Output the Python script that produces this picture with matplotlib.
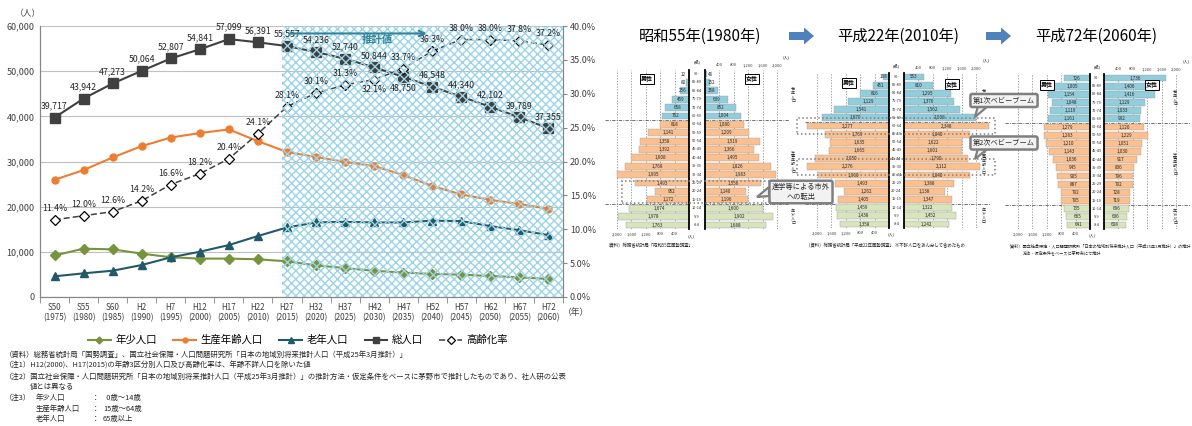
import numpy as np
import matplotlib
matplotlib.use('Agg')
import matplotlib.pyplot as plt
from matplotlib.patches import Polygon, FancyArrow, Rectangle
from matplotlib.transforms import blended_transform_factory
from matplotlib.ticker import FuncFormatter

plt.rcParams['font.family'] = ['Noto Sans CJK JP', 'DejaVu Sans']
plt.rcParams['hatch.linewidth'] = 1.0

W, H = 1192, 426

# ---- left chart: Chino city population trend
eras = ['S50', 'S55', 'S60', 'H2', 'H7', 'H12', 'H17', 'H22', 'H27',
        'H32', 'H37', 'H42', 'H47', 'H52', 'H57', 'H62', 'H67', 'H72']
years = ['1975', '1980', '1985', '1990', '1995', '2000', '2005', '2010', '2015',
         '2020', '2025', '2030', '2035', '2040', '2045', '2050', '2055', '2060']
total = [39717, 43942, 47273, 50064, 52807, 54841, 57099, 56391, 55557,
         54236, 52740, 50844, 48750, 46548, 44340, 42102, 39789, 37355]
young = [9200, 10700, 10550, 9600, 8800, 8500, 8500, 8350, 7900,
         7000, 6400, 5800, 5400, 5100, 4950, 4650, 4350, 4000]
working = [25950, 28100, 30900, 33400, 35300, 36300, 37100, 34500, 32100,
           31000, 29900, 29000, 27000, 24600, 22700, 21500, 20600, 19500]
elderly = [4580, 5240, 5820, 7080, 8780, 10020, 11500, 13500, 15400,
           16500, 16650, 16500, 16500, 16900, 16800, 15700, 14800, 13700]
aging = [11.4, 12.0, 12.6, 14.2, 16.6, 18.2, 20.4, 24.1, 28.1,
         30.1, 31.3, 32.1, 33.7, 36.3, 38.0, 38.0, 37.8, 37.2]
forecast_from = 7.83

# ---- pyramids (youngest -> oldest)
ages = ['0-4', '5-9', '10-14', '15-19', '20-24', '25-29', '30-34', '35-39', '40-44',
        '45-49', '50-54', '55-59', '60-64', '65-69', '70-74', '75-79', '80-84', '85-89', '90-']
male_1980 = [1763, 1978, 1674, 1172, 952, 1493, 1995, 1768, 1608, 1392, 1358, 1141, 818,
             762, 658, 459, 256, 80, 12]
female_1980 = [1688, 1902, 1600, 1196, 1140, 1556, 1983, 1826, 1495, 1366, 1519, 1209, 1080,
               1004, 852, 639, 358, 152, 46]
male_2010 = [1358, 1438, 1459, 1405, 1262, 1493, 1960, 2276, 2050, 1665, 1635, 1769, 2277,
             1870, 1541, 1129, 816, 451, 168]
female_2010 = [1242, 1452, 1322, 1347, 1138, 1388, 1840, 2112, 1790, 1601, 1622, 1840, 2348,
               2008, 1562, 1376, 1295, 810, 553]
male_2060 = [641, 665, 735, 795, 792, 887, 905, 945, 1036, 1143, 1210, 1283, 1279,
             1161, 1119, 1048, 1154, 1005, 726]
female_2060 = [608, 636, 696, 719, 728, 792, 796, 836, 917, 1030, 1051, 1229, 1120,
               992, 1033, 1129, 1416, 1406, 1736]
grid_ticks = [400, 800, 1200, 1600, 2000]

GREEN = '#77933C'
ORANGE = '#ED7D31'
TEAL = '#215968'
DARK = '#404040'
HATCH = '#9bd4e7'
ARROW_BLUE = '#31849B'


def box(x0, y0, x1, y1):
    return [x0 / W, 1 - y1 / H, (x1 - x0) / W, (y1 - y0) / H]


fig = plt.figure(figsize=(W / 100, H / 100), dpi=100)
ov = fig.add_axes([0, 0, 1, 1], zorder=10)
ov.set_xlim(0, W)
ov.set_ylim(H, 0)
ov.axis('off')
ov.patch.set_visible(False)

# ================= left line chart =================
ax = fig.add_axes(box(40, 26, 563, 297))
ax2 = ax.twinx()
x = np.arange(len(eras))

ln_y, = ax.plot(x, young, color=GREEN, marker='D', ms=5, lw=1.5, label='年少人口')
ln_w, = ax.plot(x, working, color=ORANGE, marker='o', ms=5, lw=1.5, label='生産年齢人口')
ln_e, = ax.plot(x, elderly, color=TEAL, marker='^', ms=6, lw=1.5, label='老年人口')
ln_t, = ax.plot(x, total, color=DARK, marker='s', ms=6.5, lw=1.5, label='総人口')
ln_r, = ax2.plot(x, aging, color=DARK, ls=(0, (4, 2)), lw=1.1, marker='D', ms=5.5,
                 mfc='white', mec='black', mew=0.9, label='高齢化率', zorder=2)

ax.set_xlim(-0.5, len(eras) - 0.5)
ax.set_ylim(0, 60000)
ax.set_yticks(range(0, 60001, 10000))
ax.yaxis.set_major_formatter(FuncFormatter(lambda v, p: f'{int(v):,}'))
ax.set_xticks(x)
ax.set_xticklabels([f'{e}\n({y})' for e, y in zip(eras, years)], linespacing=1.25)
ax.set_xticks(np.arange(-0.5, len(eras), 1), minor=True)
ax.tick_params(axis='x', which='major', length=0, labelsize=5.8, pad=4, colors='#404040')
ax.tick_params(axis='x', which='minor', length=4, color='#868686')
ax.tick_params(axis='y', length=0, labelsize=6.5, colors='#404040', pad=4)
ax.yaxis.grid(True, color='#bfbfbf', lw=0.8)
ax.set_axisbelow(True)

ax2.set_ylim(0, 40)
ax2.set_yticks(range(0, 41, 5))
ax2.yaxis.set_major_formatter(FuncFormatter(lambda v, p: f'{v:.1f}%'))
ax2.tick_params(axis='y', length=3, labelsize=6.5, colors='#404040', color='#868686', pad=2)

for a in (ax, ax2):
    a.spines['top'].set_visible(False)
    for s in ('left', 'right', 'bottom'):
        a.spines[s].set_color('#868686')

# forecast hatch over the data
ax2.axvspan(forecast_from, len(eras) - 0.5, facecolor='none', edgecolor=HATCH,
            hatch='xxxx', lw=0, zorder=3)

for i, v in enumerate(total):
    dy = -8 if i == 12 else 8.5
    ax2.annotate(f'{v:,}', xy=(i, v), xycoords=ax.transData, xytext=(0, dy),
                 textcoords='offset points', ha='center', va='center',
                 fontsize=6.3, color='#262626', zorder=6)
for i, v in enumerate(aging):
    dy = -7.5 if i == 11 else 8
    ax2.annotate(f'{v:.1f}%', xy=(i, v), xytext=(0, dy), textcoords='offset points',
                 ha='center', va='center', fontsize=6.3, color='#262626', zorder=6)

ax2.annotate('', xy=(12.9, 38.9), xytext=(8.0, 38.9),
             arrowprops=dict(arrowstyle='->', color=ARROW_BLUE, lw=1.5), zorder=6)
ax2.text(11.1, 37.9, '推計値', color=ARROW_BLUE, fontsize=7.5, fontweight='bold',
         ha='center', va='center', zorder=6)

ov.text(28, 14, '（人）', fontsize=6.3, ha='center', va='center', color='#404040')
ov.text(576, 313, '（年）', fontsize=6.3, ha='center', va='center', color='#404040')

fig.legend([ln_y, ln_w, ln_e, ln_t, ln_r], ['年少人口', '生産年齢人口', '老年人口', '総人口', '高齢化率'],
           loc='center', bbox_to_anchor=(298 / W, 1 - 340 / H), ncol=5, frameon=False,
           fontsize=7.5, handlelength=2.2, columnspacing=1.6, handletextpad=0.4, markerscale=0.7)

notes = [
    (5, 355, '（資料）総務省統計局「国勢調査」、国立社会保障・人口問題研究所「日本の地域別将来推計人口（平成25年3月推計）」'),
    (5, 366, '（注1）H12(2000)、H17(2015)の年齢3区分別人口及び高齢化率は、年齢不詳人口を除いた値'),
    (5, 377, '（注2）国立社会保障・人口問題研究所「日本の地域別将来推計人口（平成25年3月推計）」の推計方法・仮定条件をベースに茅野市で推計したものであり、社人研の公表'),
    (30, 387, '値とは異なる'),
    (5, 398, '（注3）'),
]
for nx, ny, t in notes:
    ov.text(nx, ny, t, fontsize=5.3, ha='left', va='center', color='#262626')
for ny, lab, val in ((398, '年少人口', '  0歳～14歳'), (409, '生産年齢人口', '15歳～64歳'),
                     (419, '老年人口', '65歳以上')):
    ov.text(36, ny, lab, fontsize=5.3, ha='left', va='center', color='#262626')
    ov.text(92, ny, '：', fontsize=5.3, ha='left', va='center', color='#262626')
    ov.text(103, ny, val, fontsize=5.3, ha='left', va='center', color='#262626')

# ================= pyramids =================
PX_PER = 0.036  # pixels per person
BLUE_B, PEACH_B, GREEN_B = '#92CDDC', '#FAC090', '#D7E4BD'


def pyramid(xm, xf, ytop, ybot, male, female, side_x, mbox, fbox):
    n = len(ages)
    pitch = (ybot - ytop) / (n - 1)
    y0, y1 = ytop - pitch / 2, ybot + pitch / 2
    axm = fig.add_axes(box(xm[0], y0, xm[1], y1))
    axf = fig.add_axes(box(xf[0], y0, xf[1], y1))
    idx = np.arange(n)
    cols = [GREEN_B if i < 3 else (PEACH_B if i < 13 else BLUE_B) for i in idx]
    axm.set_xlim((xm[1] - xm[0]) / PX_PER, 0)
    axf.set_xlim(0, (xf[1] - xf[0]) / PX_PER)
    for a, vals in ((axm, male), (axf, female)):
        a.barh(idx, vals, height=0.82, color=cols, edgecolor='#a0a0a0', lw=0.3, zorder=2)
        a.set_ylim(-0.5, n - 0.5)
        a.set_yticks([])
        a.set_xticks(grid_ticks)
        a.xaxis.set_major_formatter(FuncFormatter(lambda v, p: f'{int(v):,}'))
        a.grid(axis='x', ls=(0, (2, 2)), color='#7f7f7f', lw=0.5)
        a.set_axisbelow(True)
        a.patch.set_visible(False)
        for s in a.spines.values():
            s.set_visible(False)
        a.tick_params(length=0, labelsize=3, pad=2, colors='#404040')
        for i, v in enumerate(vals):
            a.text(max(v, 330) / 2, i, f'{v:,}', ha='center', va='center',
                   fontsize=3.3, color='#262626', zorder=3)
        for yb in (2.5, 12.5):
            a.axhline(yb, color='#595959', lw=0.6, ls=(0, (4, 1.5, 1, 1.5)), zorder=1)
    axm.spines['right'].set_visible(True)
    axm.spines['right'].set_linewidth(1.3)
    axm.spines['right'].set_color('black')
    axf.spines['left'].set_visible(True)
    axf.spines['left'].set_linewidth(1.3)
    axf.spines['left'].set_color('black')
    axf.xaxis.tick_top()

    # age labels in the centre strip
    gap = (xf[0] - xm[1]) / 2 / (xm[1] - xm[0])
    trm = blended_transform_factory(axm.transAxes, axm.transData)
    trf = blended_transform_factory(axf.transAxes, axf.transData)
    for i, lab in enumerate(ages):
        axm.text(1 + gap, i, lab, transform=trm, ha='center', va='center',
                 fontsize=2.8, color='#262626')
    axm.text(1 + gap, n + 0.4, '(歳)', transform=trm, ha='center', va='center',
             fontsize=3, color='#262626')
    axf.text(0.96, n + 1.0, '(人)', transform=trf, ha='center', va='center',
             fontsize=3, color='#262626')
    axm.text(0.98, -1.3, '(人)', transform=trm, ha='left', va='center',
             fontsize=3, color='#262626')

    # group labels on the right
    trs = blended_transform_factory(ov.transData, axm.transData)
    for lab, yc in (('老年人口', 15.5), ('生産年齢人口', 7.5), ('年少人口', 1)):
        ov.text(side_x, yc, '\n'.join(lab), transform=trs, ha='center', va='center',
                fontsize=2.9, linespacing=1.0, color='#262626')

    for (bx, by), lab in ((mbox, '男性'), (fbox, '女性')):
        ov.text(bx, by, lab, fontsize=4.3, fontweight='bold', ha='center', va='center',
                bbox=dict(boxstyle='square,pad=0.25', fc='white', ec='black', lw=0.7))
    return trs


tr1 = pyramid((605, 689), (705, 790), 74, 225, male_1980, female_1980, 793, (647, 79), (752, 79))
tr2 = pyramid((805, 889), (904, 990), 77, 224, male_2010, female_2010, 984, (849, 83), (952, 84))
tr3 = pyramid((1005, 1090), (1104, 1190), 78, 225, male_2060, female_2060, 1175, (1047, 85), (1152, 85))

# dotted highlights
for trs, xa, xb, ya, yb in ((tr1, 622, 796, 2.6, 5.2), (tr2, 797, 995, 11.0, 13.0),
                            (tr2, 797, 995, 6.0, 8.0)):
    ov.add_patch(Rectangle((xa, ya), xb - xa, yb - ya, transform=trs, fill=False,
                           ec='#7f7f7f', lw=1.1, ls=(0, (1, 1.6)), zorder=4))

# call-outs
for cx, cy, txt, tail in ((801, 192, '進学等による市外\nへの転出', [(769, 187), (757, 197), (769, 196)]),
                          (1004, 100.5, '第1次ベビーブーム', [(978, 106), (975, 117), (988, 106)]),
                          (1004, 143, '第2次ベビーブーム', [(978, 148.5), (975, 159), (988, 148.5)])):
    ov.add_patch(Polygon(tail, closed=True, fc='#f2f2f2', ec='#7f7f7f', lw=1.6, zorder=5))
    ov.text(cx, cy, txt, fontsize=5.2, ha='center', va='center', linespacing=1.25, zorder=6,
            color='#262626',
            bbox=dict(boxstyle='round,pad=0.35,rounding_size=0.25', fc='#f2f2f2', ec='#7f7f7f', lw=1.8))

# headers and arrows
for hx, t in ((700, '昭和55年(1980年)'), (898, '平成22年(2010年)'), (1096, '平成72年(2060年)')):
    ov.text(hx, 36, t, fontsize=11, ha='center', va='center', color='black')
for ax0 in (789, 986):
    ov.add_patch(FancyArrow(ax0, 36, 15, 0, width=8, head_width=17, head_length=10,
                            length_includes_head=False, color='#4F81BD', lw=0))

# sources under pyramids
ov.text(606, 246, '（資料）総務省統計局「昭和55年国勢調査」', fontsize=3.2, ha='left', va='center', color='#262626')
ov.text(806, 246, '（資料）総務省統計局「平成22年国勢調査」 ※不詳人口をあん分して含めたもの',
        fontsize=3.2, ha='left', va='center', color='#262626')
ov.text(1006, 246, '（資料）国立社会保障・人口問題研究所「日本の地域別将来推計人口（平成25年3月推計）」の推計',
        fontsize=3.0, ha='left', va='center', color='#262626')
ov.text(1023, 253, '方法・仮定条件をベースに茅野市にて推計', fontsize=3.0, ha='left', va='center', color='#262626')

fig.savefig('out.png', dpi=100)
